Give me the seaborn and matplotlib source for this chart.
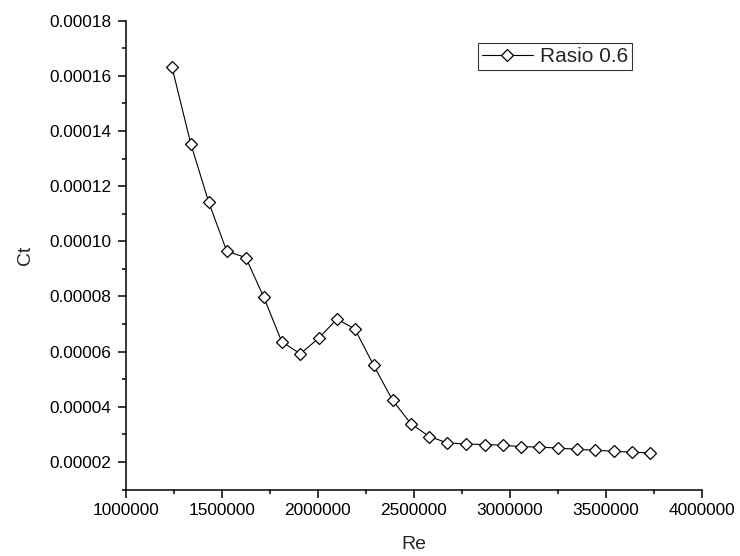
import matplotlib
matplotlib.use("Agg")
import matplotlib.pyplot as plt
import seaborn as sns
import pandas as pd
from matplotlib.ticker import MultipleLocator, FormatStrFormatter

re_values = [1241000, 1339000, 1432000, 1526000, 1625000, 1719000, 1812000,
             1909000, 2005000, 2100000, 2193000, 2290000, 2389000, 2484000,
             2580000, 2675000, 2772000, 2868000, 2963000, 3059000, 3154000,
             3252000, 3349000, 3444000, 3540000, 3635000, 3731000]
ct_values = [0.0001631, 0.0001353, 0.0001142, 0.0000964, 0.0000941, 0.0000797,
             0.0000636, 0.0000592, 0.0000649, 0.0000718, 0.0000682, 0.0000551,
             0.0000424, 0.0000339, 0.0000292, 0.0000269, 0.0000265, 0.0000263,
             0.0000261, 0.0000255, 0.0000254, 0.0000250, 0.0000246, 0.0000242,
             0.0000239, 0.0000235, 0.0000233]
series_name = "Rasio 0.6"
x_label = "Re"
y_label = "Ct"

sns.set_theme(style="ticks")
plt.rcParams['font.family'] = ['Liberation Sans', 'DejaVu Sans']

df = pd.DataFrame({"Re": re_values, "Ct": ct_values, "series": series_name})

fig = plt.figure(figsize=(7.4, 5.56), dpi=100)
ax = fig.add_axes([0.1699, 0.1196, 0.9486 - 0.1699, 0.9628 - 0.1196])

sns.lineplot(data=df, x="Re", y="Ct", hue="series", palette=["black"],
             marker="D", markersize=6.4, markerfacecolor="white",
             markeredgecolor="black", markeredgewidth=0.9,
             linewidth=0.8, ax=ax, legend=True)

ax.set_xlim(1000000, 4000000)
ax.set_ylim(0.00001, 0.00018)
ax.xaxis.set_major_locator(MultipleLocator(500000))
ax.xaxis.set_minor_locator(MultipleLocator(250000))
ax.yaxis.set_major_locator(MultipleLocator(0.00002))
ax.yaxis.set_minor_locator(MultipleLocator(0.00001))
ax.xaxis.set_major_formatter(FormatStrFormatter("%d"))
ax.yaxis.set_major_formatter(FormatStrFormatter("%.5f"))

for s in ["top", "right"]:
    ax.spines[s].set_visible(False)
for s in ["left", "bottom"]:
    ax.spines[s].set_linewidth(1.1)
    ax.spines[s].set_color("black")

ax.tick_params(which="major", direction="out", length=5.5, width=1.1,
               labelsize=12.4, colors="black")
ax.tick_params(axis="y", which="major", pad=5)
ax.tick_params(axis="x", which="major", pad=4.5)
ax.tick_params(which="minor", direction="out", length=3, width=1.1, colors="black")

ax.set_xlabel(x_label, fontsize=14, labelpad=13)
ax.set_ylabel(y_label, fontsize=14, labelpad=11)

leg = ax.legend(loc="upper right", bbox_to_anchor=(632 / 740, 1 - 43 / 556),
                bbox_transform=fig.transFigure, frameon=True, fancybox=False,
                fontsize=15, handlelength=2.45, handletextpad=0.33,
                borderpad=0.2, borderaxespad=0)
leg.get_frame().set_edgecolor("black")
leg.get_frame().set_linewidth(0.8)

fig.savefig("out.png", dpi=100)
